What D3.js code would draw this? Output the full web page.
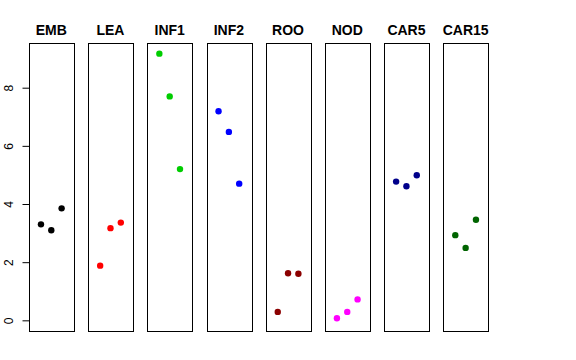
<!DOCTYPE html>
<html><head><meta charset="utf-8">
<script src="https://cdn.jsdelivr.net/npm/d3@7/dist/d3.min.js"></script>
<style>body{margin:0;background:#fff}svg{display:block}text{font-family:"Liberation Sans",Arial,Helvetica,sans-serif}</style>
</head><body>
<script>
const categories = ["EMB","LEA","INF1","INF2","ROO","NOD","CAR5","CAR15"];
const values = [
  [3.30, 3.10, 3.85],
  [1.88, 3.17, 3.36],
  [9.17, 7.70, 5.20],
  [7.19, 6.48, 4.70],
  [0.29, 1.62, 1.60],
  [0.07, 0.29, 0.72],
  [4.77, 4.61, 4.99],
  [2.93, 2.49, 3.46]
];
const colors = ["#000000","#FF0000","#00CD00","#0000FF","#8B0000","#FF00FF","#00008B","#006400"];
const yTicks = [0,2,4,6,8];

(function(){
const W=576,H=360;
const svg=d3.select("body").append("svg").attr("width",W).attr("height",H);
const pTop=43,pBottom=331,left0=29,pitch=59.19,pw=44.6;
const ymax=d3.max(values.flat());
const pad=0.04*ymax;
const y=d3.scaleLinear().domain([0-pad,ymax+pad]).range([pBottom,pTop]);

categories.forEach((c,i)=>{
  const L=left0+i*pitch;
  const x=d3.scaleLinear().domain([-0.16,4.16]).range([L,L+pw]);
  const g=svg.append("g");
  g.append("rect").attr("x",Math.round(L)+0.5).attr("y",pTop+0.5).attr("width",Math.round(pw)).attr("height",pBottom-pTop)
    .attr("fill","none").attr("stroke","#000").attr("stroke-width",1);
  g.append("text").attr("x",L+pw/2).attr("y",34.5).attr("text-anchor","middle")
    .attr("font-weight","bold").attr("font-size",14).text(c);
  g.selectAll("circle").data(values[i]).enter().append("circle")
    .attr("cx",(d,j)=>x(j+1)).attr("cy",d=>y(d)).attr("r",3.2).attr("fill",colors[i]);
});

// y axis
const ax=svg.append("g").attr("transform",`translate(${left0+0.5},0)`)
  .call(d3.axisLeft(y).tickValues(yTicks).tickSize(7).tickPadding(0).tickFormat(d3.format("d")));
ax.select(".domain").remove();
ax.selectAll(".tick line").attr("stroke","#000");
ax.selectAll(".tick text").remove();
ax.selectAll(".tick").append("text")
  .attr("transform","translate(-17,0) rotate(-90)")
  .attr("text-anchor","middle").attr("fill","#000").attr("font-size",12)
  .style("font-family","Liberation Sans, Arial, sans-serif")
  .text(d=>d);
})();
</script>
</body></html>
